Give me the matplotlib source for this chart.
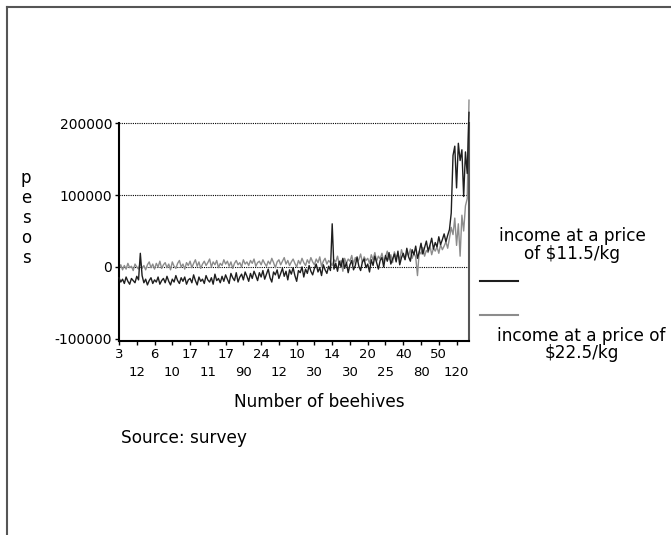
import numpy as np
import matplotlib.pyplot as plt
from matplotlib.lines import Line2D

plt.rcParams['font.family'] = ['DejaVu Sans']

# income at a price of $11.5/kg (thousands of pesos)
income_11 = [-15, -21, -17, -23, -14, -20, -24, -16, -19, -22,
             -13, -18, 19, -12, -22, -17, -25, -19, -15, -23,
             -18, -21, -14, -24, -19, -16, -22, -13, -20, -25,
             -17, -21, -12, -19, -23, -15, -20, -14, -24, -18,
             -16, -22, -11, -19, -25, -14, -20, -17, -23, -12,
             -18, -21, -15, -24, -10, -19, -16, -22, -13, -20,
             -11, -17, -23, -9, -15, -19, -8, -21, -14, -10,
             -18, -7, -13, -20, -9, -16, -6, -12, -19, -8,
             -14, -5, -17, -10, -3, -15, -21, -7, -11, -4,
             -16, -9, -2, -13, -6, -18, -4, -10, -1, -12,
             -20, -5, -8, 0, -14, -3, -9, 2, -6, -11,
             -2, 4, -7, -1, -12, 3, -4, -9, 1, -5,
             60, -3, 5, -6, 8, 0, 12, -2, 6, -8,
             3, 9, -4, 2, 14, 1, -5, 7, 11, -1,
             4, -7, 10, 2, 15, 6, -3, 9, 13, 0,
             16, 8, 20, 4, 11, 18, 7, 22, 3, 13,
             19, 10, 26, 14, 8, 24, 17, 29, 12, 21,
             33, 18, 27, 36, 22, 30, 40, 25, 34, 28,
             42, 31, 38, 46, 35, 44, 52, 75, 155, 168,
             110, 172, 148, 163, 98, 160, 130, 215]

# income at a price of $22.5/kg (thousands of pesos)
income_22 = [-2, 3, -4, 2, -3, 5, -1, 1, -5, 4,
             0, -3, 6, -2, 2, -4, 3, 7, -1, 4,
             -3, 5, 0, 8, -2, 3, 6, -1, 4, -4,
             7, 1, -2, 5, 9, 0, 4, -3, 6, 2,
             8, -1, 5, 10, 1, 7, -2, 4, 8, 2,
             6, 11, 0, 7, 3, 9, -1, 5, 2, 10,
             4, 8, 1, 7, -2, 5, 9, 3, 6, 0,
             10, 4, 7, 2, 9, 5, 11, 1, 6, 8,
             3, 10, 5, 1, 8, 4, 12, 6, -1, 7,
             10, 3, 8, 13, 4, 9, 2, 7, 11, 5,
             0, 9, 4, 12, 6, 2, 10, 5, 13, 7,
             3, 11, 6, 14, 1, 8, 12, 4, 9, 6,
             2, 10, 7, 15, 3, 9, -6, 12, 5, 11,
             8, 16, 4, 13, 7, 10, 18, 6, 14, 9,
             12, 5, 17, 10, 20, 8, 15, 11, 19, 7,
             14, 22, 10, 17, 6, 21, 13, 18, 9, 24,
             15, 11, 20, 16, 25, 12, 19, 14, -12, 22,
             18, 27, 15, 23, 20, 30, 17, 26, 22, 28,
             19, 31, 24, 29, 35, 26, 40, 55, 45, 68,
             30, 60, 15, 72, 50, 85, 95, 232]

n_obs = 395
tick_labels = ['3', '12', '6', '10', '17', '11', '17', '90', '24', '12',
               '10', '30', '14', '30', '20', '25', '40', '80', '50', '120']
yticks = [-100000, 0, 100000, 200000]

fig = plt.figure(figsize=(6.71, 5.35), dpi=100)
ax = fig.add_axes([119 / 671, 1 - 341 / 535, 350 / 671, 243 / 535])

x = np.linspace(0, n_obs - 1, len(income_11))
y11 = np.array(income_11) * 1000
y22 = np.array(income_22) * 1000

# dotted reference lines
for v in [0, 100000, 200000]:
    ax.axhline(v, color='black', lw=0.8, ls=(0, (1, 1)), zorder=1)

ax.plot(x, y22, color='#8c8c8c', lw=1.0, zorder=2, clip_on=False)
ax.plot(x, y11, color='#1e1e1e', lw=1.0, zorder=3, clip_on=False)

ax.set_xlim(0, n_obs - 1)
ax.set_ylim(-103000, 235000)

ax.spines['top'].set_visible(False)
ax.spines['left'].set_bounds(-103000, 200000)
ax.spines['right'].set_bounds(-103000, 200000)
ax.spines['left'].set_linewidth(1.5)
ax.spines['bottom'].set_linewidth(1.5)
ax.spines['right'].set_linewidth(1.5)
ax.spines['right'].set_color('#555555')

ax.set_yticks(yticks)
ax.set_yticklabels([str(v) for v in yticks], fontsize=10)
ax.tick_params(axis='y', length=3, width=1, pad=2)

# staggered x tick labels in two rows
tick_pos = np.arange(0, n_obs, 20)
ax.set_xticks(tick_pos[0::2])
ax.set_xticklabels(tick_labels[0::2], fontsize=9.5)
ax.set_xticks(tick_pos[1::2], minor=True)
ax.set_xticklabels(tick_labels[1::2], minor=True, fontsize=9.5)
ax.tick_params(axis='x', which='major', length=3, width=1, pad=2)
ax.tick_params(axis='x', which='minor', length=3, width=1, pad=15)

fig.text(319 / 671, 1 - 402 / 535, 'Number of beehives', ha='center', va='center', fontsize=12.2)
fig.text(121 / 671, 1 - 438 / 535, 'Source: survey', ha='left', va='center', fontsize=12.2)

# vertical "pesos" label
for i, ch in enumerate('pesos'):
    fig.text(26 / 671, 1 - (178 + 20 * i) / 535, ch, ha='center', va='center', fontsize=12)

# legend-like annotations
fig.text(572 / 671, 1 - 245 / 535, 'income at a price\nof $11.5/kg', ha='center', va='center',
         fontsize=12.2, linespacing=1.0)
fig.add_artist(Line2D([480 / 671, 518 / 671], [1 - 281 / 535, 1 - 281 / 535], color='#1e1e1e', lw=1.5))
fig.add_artist(Line2D([480 / 671, 518 / 671], [1 - 315 / 535, 1 - 315 / 535], color='#8c8c8c', lw=1.5))
fig.text(497 / 671, 1 - 336 / 535, 'income at a price of', ha='left', va='center', fontsize=12.2)
fig.text(582 / 671, 1 - 353 / 535, '$22.5/kg', ha='center', va='center', fontsize=12.2)

# page frame (top and left edges)
fig.add_artist(Line2D([7 / 671, 7 / 671], [0, 1 - 7 / 535], color='#555555', lw=1.5))
fig.add_artist(Line2D([7 / 671, 1], [1 - 7 / 535, 1 - 7 / 535], color='#555555', lw=1.5))

fig.savefig('out.png', dpi=100)
